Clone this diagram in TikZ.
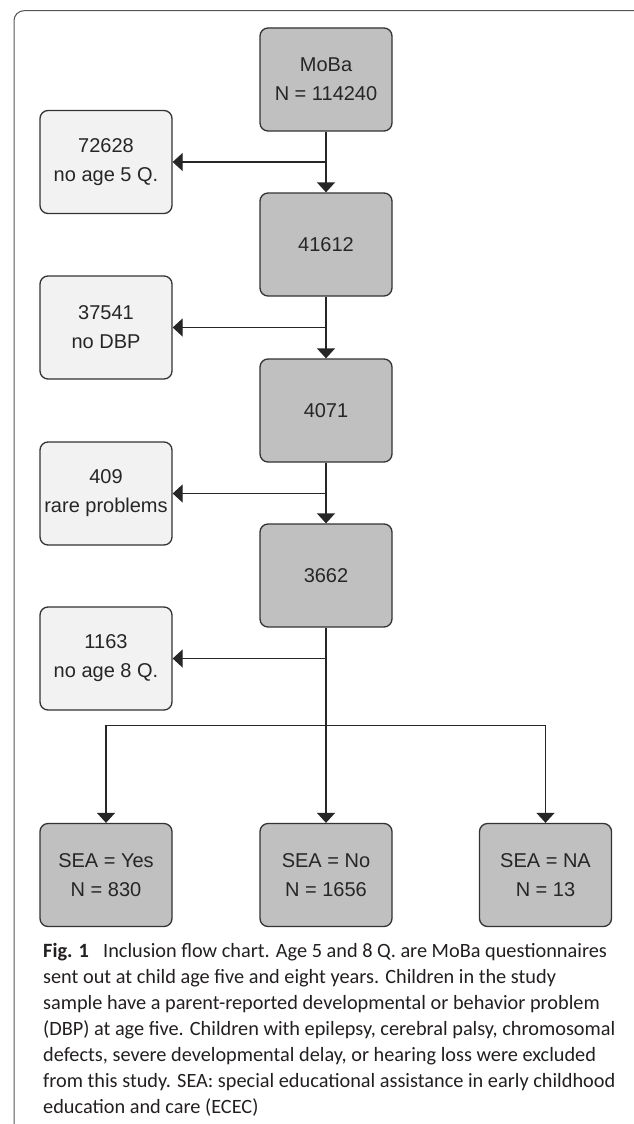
\documentclass[tikz,border=0pt]{standalone}
\usepackage{fontspec}
\setmainfont{Liberation Sans}
\newfontfamily\capfont{Carlito}
\usetikzlibrary{arrows.meta,calc}
\definecolor{boxdark}{HTML}{C0C0C0}
\definecolor{boxlight}{HTML}{F2F2F2}
\definecolor{edgecol}{HTML}{333333}
\definecolor{framecol}{HTML}{555555}
\definecolor{captext}{HTML}{231F20}
\begin{document}
\begin{tikzpicture}[x=1pt,y=-1pt,
  base/.style={draw=edgecol, line width=1.3pt, rounded corners=8pt,
    minimum width=132pt, minimum height=103pt, inner sep=0pt, align=center,
    font=\fontsize{20pt}{29pt}\selectfont, text=black!85},
  mainbox/.style={base, fill=boxdark},
  sidebox/.style={base, fill=boxlight},
  arr/.style={draw=black!85, line width=1.3pt, -{Triangle[length=10pt,width=18pt]}},
]
\useasboundingbox (0,0) rectangle (633,1124);
\draw[framecol, line width=1pt, rounded corners=10pt] (14,10.7) rectangle (660,1135);

\node[mainbox] (moba) at (326,79.5) {MoBa\\N = 114240};
\node[mainbox] (n1) at (326,244.5) {41612};
\node[mainbox] (n2) at (326,410.5) {4071};
\node[mainbox] (n3) at (326,575.5) {3662};
\node[sidebox] (s1) at (106,162) {72628\\no age 5 Q.};
\node[sidebox] (s2) at (106,327.5) {37541\\no DBP};
\node[sidebox] (s3) at (106,493.5) {409\\rare problems};
\node[sidebox] (s4) at (106,658.5) {1163\\no age 8 Q.};
\node[mainbox] (yes) at (106,875) {SEA = Yes\\N = 830};
\node[mainbox] (no) at (326,875) {SEA = No\\N = 1656};
\node[mainbox] (na) at (545.5,875) {SEA = NA\\N = 13};

\draw[arr] (moba) -- (n1);
\draw[arr] (n1) -- (n2);
\draw[arr] (n2) -- (n3);
\draw[arr] (n3) -- (no);
\draw[arr] (moba.south |- s1.east) -- (s1.east);
\draw[arr] (n1.south |- s2.east) -- (s2.east);
\draw[arr] (n2.south |- s3.east) -- (s3.east);
\draw[arr] (n3.south |- s4.east) -- (s4.east);
\coordinate (br) at (326,725.5);
\draw[arr] (br) -| (yes.north);
\draw[arr] (br) -| (na.north);

\node[anchor=north west, align=left, inner sep=0pt, text=captext,
  font=\capfont\fontsize{20.3pt}{26pt}\selectfont] (cap) at (43,943)
{\textbf{Fig. 1}\hspace{0.7em}Inclusion flow chart. Age 5 and 8 Q. are MoBa questionnaires\\
sent out at child age five and eight years. Children in the study\\
sample have a parent-reported developmental or behavior problem\\
(DBP) at age five. Children with epilepsy, cerebral palsy, chromosomal\\
defects, severe developmental delay, or hearing loss were excluded\\
from this study. SEA: special educational assistance in early childhood\\
education and care (ECEC)};
\end{tikzpicture}
\end{document}
